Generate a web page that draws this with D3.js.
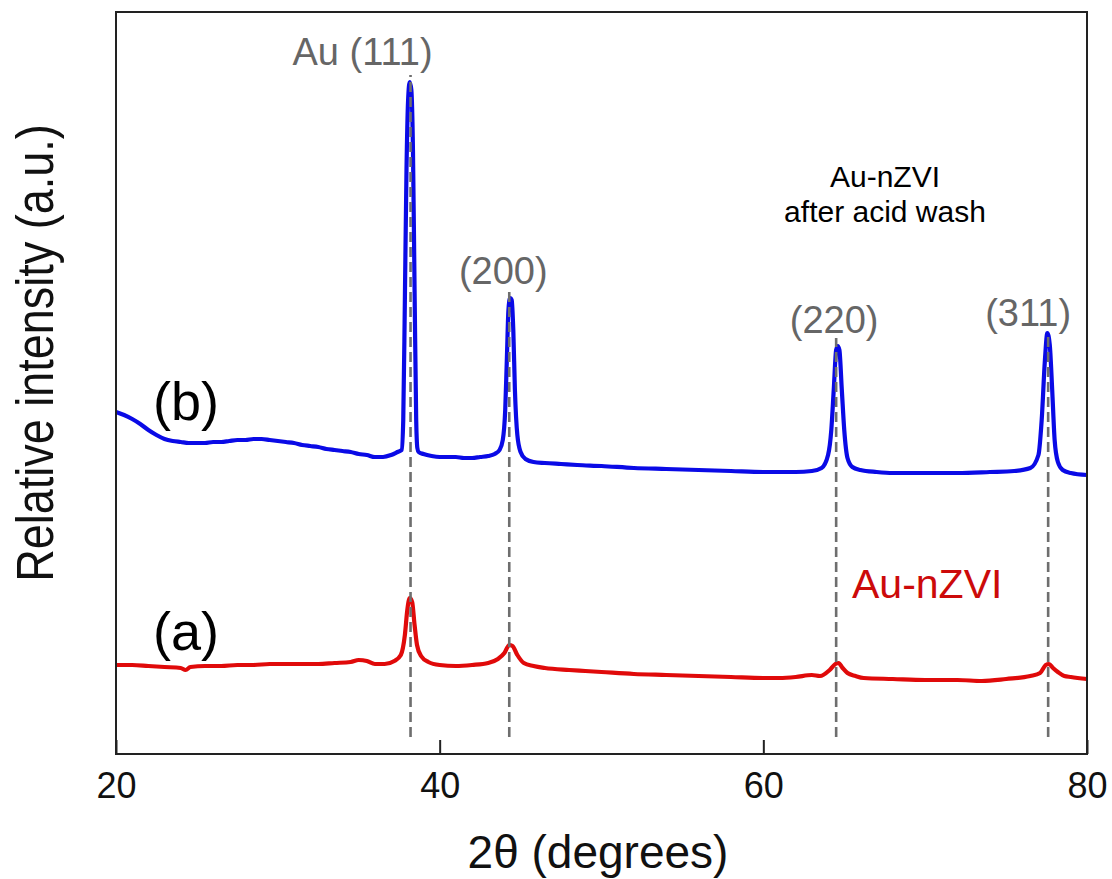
<!DOCTYPE html>
<html>
<head>
<meta charset="utf-8">
<script src="https://cdn.jsdelivr.net/npm/d3@7"></script>
<style>
  html, body { margin: 0; padding: 0; background: #fff; }
  svg text { font-family: "Liberation Sans", Arial, sans-serif; }
</style>
</head>
<body>
<div id="chart"></div>
<script>
const xTicks = [20, 40, 60, 80];

//(b) Au-nZVI después del lavado ácido
const curveB = [
  [20.0, 342], [20.5, 339], [21.0, 335], [21.5, 330], [22.0, 324], [22.5, 319], [23.0, 315], [23.5, 313],
  [24.0, 312], [24.5, 311], [25.0, 311], [25.5, 311], [26.0, 312], [26.5, 312], [27.0, 313], [27.5, 314],
  [28.0, 314], [28.5, 315], [29.0, 315], [29.5, 314], [30.0, 313], [30.5, 312], [31.0, 311], [31.5, 309],
  [32.0, 308], [32.5, 307], [33.0, 305], [33.5, 304], [34.0, 303], [34.5, 302], [35.0, 300], [35.5, 299],
  [36.0, 297], [36.5, 297], [37.0, 299], [37.4, 302], [37.65, 304], [37.75, 334], [37.85, 454], [37.95, 584],
  [38.05, 654], [38.15, 672], [38.25, 664], [38.35, 604], [38.45, 464], [38.55, 334], [38.62, 306], [38.7, 302],
  [39.0, 300], [39.5, 298], [40.0, 297], [40.5, 297], [41.0, 297], [41.5, 296], [42.0, 296], [42.5, 297],
  [43.0, 298], [43.4, 300], [43.7, 304], [43.9, 314], [44.05, 344], [44.15, 394], [44.25, 444], [44.35, 456],
  [44.45, 454], [44.55, 424], [44.65, 364], [44.8, 319], [45.0, 302], [45.3, 295], [45.8, 292], [46.5, 291],
  [47.5, 290], [48.5, 289], [50.0, 288], [52.0, 286], [54.0, 285], [56.0, 284], [58.0, 283], [60.0, 282],
  [62.0, 282], [63.0, 283], [63.6, 286], [64.0, 299], [64.2, 324], [64.35, 364], [64.5, 404], [64.6, 408],
  [64.7, 404], [64.85, 364], [65.0, 324], [65.2, 296], [65.5, 287], [66.0, 284], [67.0, 282], [68.0, 281],
  [70.0, 281], [72.0, 281], [74.0, 282], [75.5, 283], [76.5, 286], [77.0, 299], [77.2, 334], [77.4, 394],
  [77.55, 421], [77.7, 409], [77.85, 364], [78.0, 314], [78.2, 292], [78.5, 284], [79.0, 281], [80.0, 279]
];

//(a) Au-nZVI
const curveA = [
  [20.0, 89], [21.0, 89], [22.0, 88], [23.0, 87], [24.0, 86], [24.3, 84], [24.6, 87], [25.5, 88],
  [26.5, 88], [27.5, 89], [28.5, 89], [29.5, 90], [30.5, 90], [31.5, 90], [32.5, 90], [33.5, 91],
  [34.5, 92], [35.0, 94], [35.5, 93], [36.0, 90], [36.6, 90], [37.2, 93], [37.6, 99], [37.85, 119],
  [38.0, 144], [38.15, 156], [38.3, 152], [38.45, 129], [38.6, 109], [38.85, 98], [39.3, 92], [40.0, 89],
  [41.0, 88], [42.0, 89], [43.0, 91], [43.6, 95], [44.0, 101], [44.3, 109], [44.5, 108], [44.8, 99],
  [45.2, 91], [45.8, 88], [46.5, 86], [48.0, 84], [49.0, 83], [50.0, 82], [52.0, 80], [54.0, 79],
  [56.0, 78], [58.0, 77], [60.0, 76], [61.0, 76], [62.0, 77], [63.0, 79], [63.5, 78], [64.1, 84],
  [64.45, 90], [64.65, 91], [64.9, 86], [65.2, 81], [65.7, 78], [66.2, 76], [68.0, 75], [70.0, 74],
  [72.0, 74], [73.5, 73], [75.0, 75], [76.5, 78], [77.1, 81], [77.45, 89], [77.65, 90], [77.9, 86],
  [78.2, 82], [78.6, 78], [79.0, 77], [80.0, 75]
];

//Reflexiones del oro
const reflections = ['Au (111)', '(200)', '(220)', '(311)'];
const reflectionAngles = [38.2, 44.3, 64.5, 77.6];
const reflectionTops = [679, 464, 416, 421];
const reflectionBase = 17;

//Colores
const COLOR_B = '#0a0ae6', COLOR_A = '#e00a0a', COLOR_LABEL_A = '#cc0a0a', COLOR_HKL = '#666666', COLOR_AXIS = '#222222';

const margin = {top: 12, right: 25, bottom: 125, left: 116},
    width = 1112 - margin.left - margin.right,
    height = 879 - margin.top - margin.bottom;

const svg = d3.select('#chart')
    .append('svg')
        .attr('width', 1112)
        .attr('height', 879);

const g = svg.append('g')
    .attr('transform', 'translate(' + margin.left + ',' + margin.top + ')');

const x = d3.scaleLinear()
    .domain([20, 80])
    .range([0, width]);

const y = d3.scaleLinear()
    .domain([0, 742])
    .range([height, 0]);

const line = d3.line()
    .x(function(d) { return x(d[0]); })
    .y(function(d) { return y(d[1]); })
    .curve(d3.curveMonotoneX);

//Curvas
g.append('path')
    .datum(curveB)
    .attr('fill', 'none')
    .attr('stroke', COLOR_B)
    .attr('stroke-width', 4.2)
    .attr('stroke-linejoin', 'round')
    .attr('d', line);

g.append('path')
    .datum(curveA)
    .attr('fill', 'none')
    .attr('stroke', COLOR_A)
    .attr('stroke-width', 4.2)
    .attr('stroke-linejoin', 'round')
    .attr('d', line);

//Líneas discontinuas de las reflexiones
g.selectAll('.refl')
    .data(reflectionAngles)
    .enter()
    .append('line')
    .attr('class', 'refl')
    .attr('x1', function(d) { return x(d); })
    .attr('x2', function(d) { return x(d); })
    .attr('y1', y(reflectionBase))
    .attr('y2', function(d, i) { return y(reflectionTops[i]); })
    .attr('stroke', '#6e6e6e')
    .attr('stroke-width', 2.6)
    .attr('stroke-dasharray', '10,5');

//Etiquetas hkl (desplazamientos respecto al pico)
const hklOffsets = [[-48, -10], [-6, -6], [-2, -5], [-20, -7]];
g.selectAll('.hkl')
    .data(reflections)
    .enter()
    .append('text')
    .attr('class', 'hkl')
    .attr('x', function(d, i) { return x(reflectionAngles[i]) + hklOffsets[i][0]; })
    .attr('y', function(d, i) { return y(reflectionTops[i]) + hklOffsets[i][1]; })
    .attr('text-anchor', 'middle')
    .attr('font-size', 38)
    .attr('fill', COLOR_HKL)
    .text(function(d) { return d; });

//Marco
g.append('rect')
    .attr('x', 0)
    .attr('y', 0)
    .attr('width', width)
    .attr('height', height)
    .attr('fill', 'none')
    .attr('stroke', COLOR_AXIS)
    .attr('stroke-width', 2);

//Eje X
const xAxis = g.append('g')
    .attr('transform', 'translate(0,' + height + ')')
    .call(d3.axisBottom(x).tickValues(xTicks).tickSizeInner(-14).tickSizeOuter(0).tickPadding(18));

xAxis.select('.domain').remove();
xAxis.selectAll('.tick line').attr('stroke', COLOR_AXIS).attr('stroke-width', 2);
xAxis.selectAll('.tick text')
    .attr('font-size', 36)
    .attr('fill', '#111')
    .style('font-family', '"Liberation Sans", Arial, sans-serif');

//Títulos de ejes
svg.append('text')
    .attr('x', 598)
    .attr('y', 868)
    .attr('text-anchor', 'middle')
    .attr('font-size', 46)
    .attr('fill', '#111')
    .text('2θ (degrees)');

svg.append('text')
    .attr('transform', 'translate(53,353) rotate(-90) scale(1,1.15)')
    .attr('text-anchor', 'middle')
    .attr('font-size', 45)
    .attr('fill', '#111')
    .text('Relative intensity (a.u.)');

//Etiquetas de las muestras
svg.append('text')
    .attr('x', 153).attr('y', 420)
    .attr('font-size', 54)
    .attr('fill', '#000')
    .text('(b)');

svg.append('text')
    .attr('x', 153).attr('y', 650)
    .attr('font-size', 54)
    .attr('fill', '#000')
    .text('(a)');

svg.append('text')
    .attr('x', 852).attr('y', 598)
    .attr('font-size', 41)
    .attr('fill', COLOR_LABEL_A)
    .text('Au-nZVI');

svg.append('text')
    .attr('x', 885).attr('y', 187)
    .attr('text-anchor', 'middle')
    .attr('font-size', 30)
    .attr('fill', '#000')
    .text('Au-nZVI');

svg.append('text')
    .attr('x', 885).attr('y', 222)
    .attr('text-anchor', 'middle')
    .attr('font-size', 30)
    .attr('fill', '#000')
    .text('after acid wash');
</script>
</body>
</html>
